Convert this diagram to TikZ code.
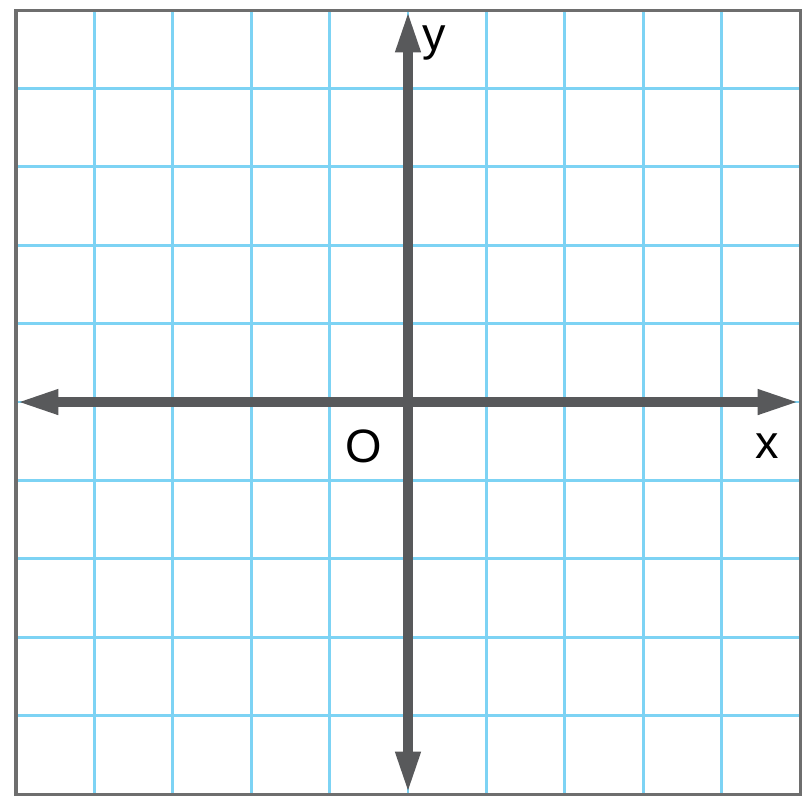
\documentclass[tikz,border=0pt]{standalone}
\usepackage{fontspec}
\setmainfont{Liberation Sans}
\usetikzlibrary{calc, positioning}
\usetikzlibrary{arrows.meta}
\definecolor{gridblue}{HTML}{7DD3F4}
\definecolor{axisgray}{HTML}{58595B}
\definecolor{framegray}{HTML}{6E6E6E}
\tikzset{
  gridline/.style={gridblue, line width=1pt},
  frameline/.style={framegray, line width=1.1pt},
  axisline/.style={axisgray, line width=3.6pt, {Triangle[length=5.4mm,width=2.9mm]}-{Triangle[length=5.4mm,width=2.9mm]}},
  axislabel/.style={font=\fontsize{17}{20}\selectfont, text=black, inner sep=0pt, anchor=base}
}
\begin{document}
\begin{tikzpicture}
\def\half{5}
\useasboundingbox[fill=white] (-5.204,-5.115) rectangle (5.140,5.128);
\coordinate (L) at (-\half,0);
\coordinate (R) at (\half,0);
\coordinate (T) at (0,\half);
\coordinate (B) at (0,-\half);
\draw[gridline] (-\half,-\half) grid (\half,\half);
\draw[frameline] (-\half,-\half) rectangle (\half,\half);
\draw[axisline] (L) -- (R);
\draw[axisline] (B) -- (T);
\node[axislabel] (ylab) at (0.33,4.48) {y};
\node[axislabel] (xlab) at (4.58,-0.714) {x};
\node[axislabel] (olab) at (-0.56,-0.765) {O};
\end{tikzpicture}
\end{document}
